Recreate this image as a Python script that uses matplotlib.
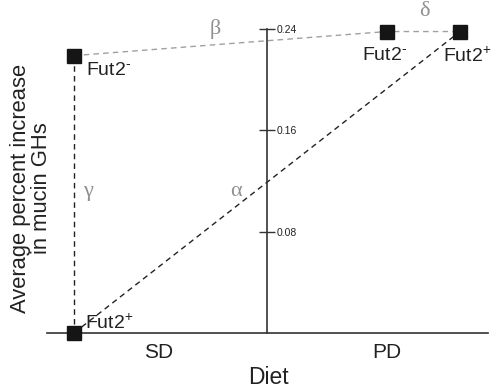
import matplotlib
matplotlib.use('Agg')
import matplotlib.pyplot as plt

plt.rcParams['font.family'] = ['Liberation Sans', 'DejaVu Sans']
plt.rcParams['mathtext.fontset'] = 'custom'
plt.rcParams['mathtext.rm'] = 'Liberation Sans'
plt.rcParams['mathtext.it'] = 'Liberation Sans'

# data: group positions (SD left, PD right of the axis) and values
groups = ['SD', 'PD']
group_x = [-0.56, 0.62]
sd_x = -1.0
pd_minus_x = 0.62
pd_plus_x = 1.0
sd_minus, sd_plus = 0.219, 0.0
pd_minus, pd_plus = 0.238, 0.238
yticks = [0.08, 0.16, 0.24]

fig = plt.figure(figsize=(4.94, 3.91), dpi=100)
ax = fig.add_axes([47 / 494, (391 - 333) / 391, 441 / 494, 323 / 391])
ax.set_xlim(-1.14, 1.145)
ax.set_ylim(0, 0.255)

axc = '#333333'
# gray dashed lines (beta, delta)
ax.plot([sd_x, pd_minus_x, pd_plus_x], [sd_minus, pd_minus, pd_plus],
        ls=(0, (4, 3)), color='#a0a0a0', lw=1, clip_on=False, zorder=2)
# black dashed (gamma, alpha)
ax.plot([sd_x, sd_x], [sd_minus, sd_plus], ls=(0, (4, 3)), color='#222222', lw=1, clip_on=False, zorder=2)
ax.plot([sd_x, pd_plus_x], [sd_plus, pd_plus], ls=(0, (4, 3)), color='#222222', lw=1, clip_on=False, zorder=2)

ax.plot([sd_x, sd_x, pd_minus_x, pd_plus_x], [sd_minus, sd_plus, pd_minus, pd_plus],
        ls='none', marker='s', ms=10, color='#151515', clip_on=False, zorder=4)

# axes
for s in ['top', 'left']:
    ax.spines[s].set_visible(False)
ax.spines['bottom'].set_position(('data', 0))
ax.spines['bottom'].set_color(axc)
ax.spines['bottom'].set_linewidth(1.2)
ax.spines['right'].set_position(('data', 0))
ax.spines['right'].set_bounds(0, 0.24)
ax.spines['right'].set_color(axc)
ax.spines['right'].set_linewidth(1.2)
ax.yaxis.tick_right()
ax.set_yticks(yticks)
ax.set_yticklabels([f'{v:.2f}' for v in yticks])
ax.tick_params(axis='y', direction='inout', length=12, width=1, color=axc,
               labelsize=7.5, pad=1, labelcolor='#222222')
ax.set_xticks([])

# category labels
for gx, g in zip(group_x, groups):
    ax.text(gx, -0.0155, g, ha='center', va='center', fontsize=15, color='#222222')
ax.text(0.005, -0.0355, 'Diet', ha='center', va='center', fontsize=16.5, color='#222222')
fig.text(31 / 494, 1 - 188 / 391, 'Average percent increase\nin mucin GHs', rotation=90,
         ha='center', va='center', fontsize=15.8, color='#222222', linespacing=1.0)

# point labels
minus = r'Fut2$^{\text{-}}$'
plus = r'Fut2$^{+}$'
lab = dict(fontsize=14, color='#222222')
ax.text(-0.94, sd_minus - 0.012, minus, ha='left', va='center', **lab)
ax.text(-0.945, sd_plus + 0.008, plus, ha='left', va='center', **lab)
ax.text(pd_minus_x - 0.01, pd_minus - 0.019, minus, ha='center', va='center', **lab)
ax.text(pd_plus_x + 0.035, pd_plus - 0.019, plus, ha='center', va='center', **lab)

# greek labels
gk = dict(fontsize=16, color='#909090', family='Liberation Serif', ha='center', va='center')
ax.text(-0.27, 0.240, 'β', **gk)
ax.text(0.815, 0.254, 'δ', **gk)
ax.text(-0.93, 0.112, 'γ', **gk)
ax.text(-0.16, 0.112, 'α', **gk)

fig.savefig('out.png', dpi=100)
